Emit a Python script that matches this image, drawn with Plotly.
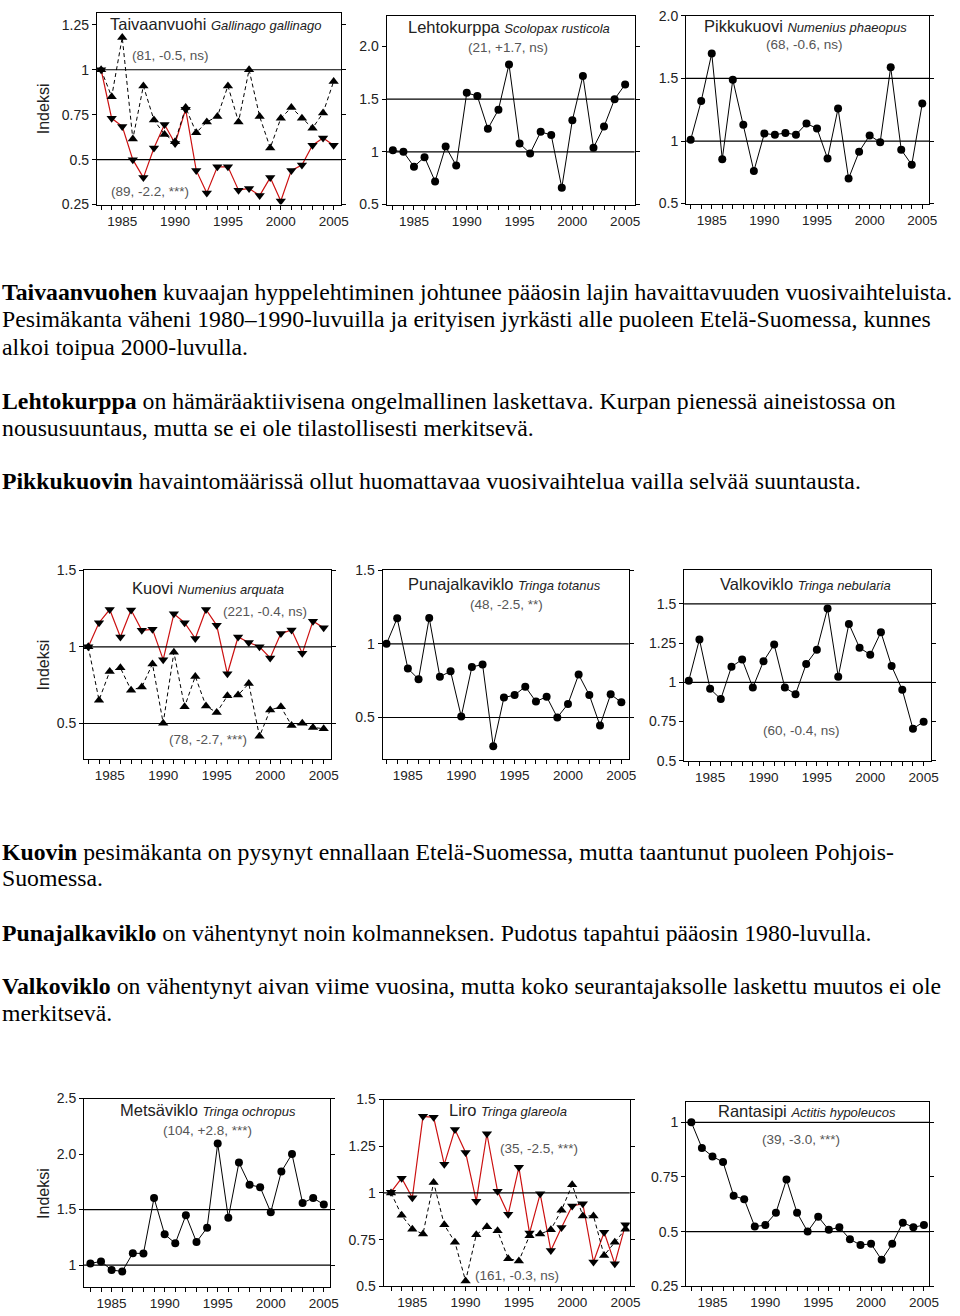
import plotly.graph_objects as go

# ---------------- data ----------------
years = list(range(1983, 2006))

taivaanvuohi_red = [1.0, 0.73, 0.685, 0.50, 0.40, 0.565, 0.695, 0.59, 0.78, 0.44, 0.315, 0.46,
                    0.46, 0.33, 0.34, 0.30, 0.40, 0.27, 0.44, 0.47, 0.58, 0.62, 0.58]
taivaanvuohi_black = [1.0, 0.85, 1.18, 0.615, 0.91, 0.72, 0.64, 0.60, 0.79, 0.65, 0.71, 0.74,
                      0.91, 0.71, 1.0, 0.74, 0.565, 0.73, 0.79, 0.73, 0.675, 0.76, 0.935]
lehtokurppa = [1.015, 1.0, 0.86, 0.95, 0.72, 1.05, 0.87, 1.56, 1.53, 1.22, 1.40, 1.83,
               1.08, 0.985, 1.19, 1.16, 0.66, 1.30, 1.72, 1.04, 1.24, 1.50, 1.64]
pikkukuovi = [1.01, 1.32, 1.70, 0.855, 1.49, 1.13, 0.76, 1.06, 1.05, 1.065, 1.05, 1.14,
              1.10, 0.86, 1.26, 0.70, 0.915, 1.045, 0.99, 1.59, 0.93, 0.81, 1.30]
kuovi_red = [1.0, 1.157, 1.243, 1.064, 1.24, 1.107, 1.114, 0.916, 1.215, 1.157, 1.054, 1.243,
             1.14, 0.824, 1.064, 1.028, 1.0, 0.927, 1.086, 1.11, 0.957, 1.167, 1.124]
kuovi_black = [1.0, 0.652, 0.839, 0.863, 0.717, 0.738, 0.888, 0.502, 0.964, 0.609, 0.807, 0.614,
               0.571, 0.68, 0.685, 0.76, 0.416, 0.588, 0.609, 0.487, 0.502, 0.474, 0.466]
punajalkaviklo = [1.0, 1.173, 0.832, 0.76, 1.175, 0.776, 0.814, 0.507, 0.843, 0.859, 0.305, 0.635,
                  0.652, 0.709, 0.608, 0.641, 0.50, 0.592, 0.791, 0.652, 0.446, 0.657, 0.603]
valkoviklo = [1.01, 1.273, 0.958, 0.893, 1.099, 1.145, 0.966, 1.134, 1.24, 0.966, 0.924, 1.116,
              1.208, 1.47, 1.036, 1.372, 1.22, 1.176, 1.319, 1.103, 0.952, 0.704, 0.748]
metsaviklo = [1.015, 1.033, 0.955, 0.943, 1.107, 1.104, 1.604, 1.277, 1.196, 1.449, 1.208, 1.336,
              2.095, 1.426, 1.923, 1.723, 1.702, 1.476, 1.842, 2.0, 1.56, 1.604, 1.545]
liro_red = [1.004, 1.079, 0.974, 1.41, 1.405, 1.153, 1.34, 1.217, 0.956, 1.317, 1.009, 0.886,
            1.137, 0.785, 0.995, 0.692, 0.815, 0.93, 0.942, 0.63, 0.789, 0.621, 0.829]
liro_black = [1.0, 0.88, 0.806, 0.78, 1.056, 0.829, 0.736, 0.528, 0.776, 0.819, 0.797, 0.648,
              0.636, 0.771, 0.78, 0.803, 0.907, 1.044, 0.877, 0.877, 0.665, 0.736, 0.806]
rantasipi = [1.0, 0.883, 0.844, 0.818, 0.664, 0.648, 0.523, 0.53, 0.586, 0.738, 0.586, 0.50,
             0.568, 0.508, 0.52, 0.465, 0.439, 0.444, 0.371, 0.444, 0.541, 0.52, 0.53]

x_tick_labels = ["1985", "1990", "1995", "2000", "2005"]

titles = ["Taivaanvuohi", "Lehtokurppa", "Pikkukuovi", "Kuovi", "Punajalkaviklo",
          "Valkoviklo", "Metsäviklo", "Liro", "Rantasipi"]
latin = ["Gallinago gallinago", "Scolopax rusticola", "Numenius phaeopus", "Numenius arquata",
         "Tringa totanus", "Tringa nebularia", "Tringa ochropus", "Tringa glareola",
         "Actitis hypoleucos"]

ytick_values = [
    [0.25, 0.5, 0.75, 1, 1.25],
    [0.5, 1, 1.5, 2.0],
    [0.5, 1, 1.5, 2.0],
    [0.5, 1, 1.5],
    [0.5, 1, 1.5],
    [0.5, 0.75, 1, 1.25, 1.5],
    [1, 1.5, 2.0, 2.5],
    [0.5, 0.75, 1, 1.25, 1.5],
    [0.25, 0.5, 0.75, 1],
]
ytick_labels = [
    ["0.25", "0.5", "0.75", "1", "1.25"],
    ["0.5", "1", "1.5", "2.0"],
    ["0.5", "1", "1.5", "2.0"],
    ["0.5", "1", "1.5"],
    ["0.5", "1", "1.5"],
    ["0.5", "0.75", "1", "1.25", "1.5"],
    ["1", "1.5", "2.0", "2.5"],
    ["0.5", "0.75", "1", "1.25", "1.5"],
    ["0.25", "0.5", "0.75", "1"],
]
ref_lines = [[0.5, 1], [1, 1.5], [1, 1.5], [0.5, 1], [0.5, 1], [1, 1.5], [1, 1.5], [1], [0.5, 1]]

stats_text = [
    ["(81, -0.5, ns)", "(89, -2.2, ***)"],
    ["(21, +1.7, ns)"],
    ["(68, -0.6, ns)"],
    ["(221, -0.4, ns)", "(78, -2.7, ***)"],
    ["(48, -2.5, **)"],
    ["(60, -0.4, ns)"],
    ["(104, +2.8, ***)"],
    ["(35, -2.5, ***)", "(161, -0.3, ns)"],
    ["(39, -3.0, ***)"],
]

body_lines = [
    "<b>Taivaanvuohen</b> kuvaajan hyppelehtiminen johtunee pääosin lajin havaittavuuden vuosivaihteluista.",
    "Pesimäkanta väheni 1980–1990-luvuilla ja erityisen jyrkästi alle puoleen Etelä-Suomessa, kunnes",
    "alkoi toipua 2000-luvulla.",
    "<b>Lehtokurppa</b> on hämäräaktiivisena ongelmallinen laskettava. Kurpan pienessä aineistossa on",
    "noususuuntaus, mutta se ei ole tilastollisesti merkitsevä.",
    "<b>Pikkukuovin</b> havaintomäärissä ollut huomattavaa vuosivaihtelua vailla selvää suuntausta.",
    "<b>Kuovin</b> pesimäkanta on pysynyt ennallaan Etelä-Suomessa, mutta taantunut puoleen Pohjois-",
    "Suomessa.",
    "<b>Punajalkaviklo</b> on vähentynyt noin kolmanneksen. Pudotus tapahtui pääosin 1980-luvulla.",
    "<b>Valkoviklo</b> on vähentynyt aivan viime vuosina, mutta koko seurantajaksolle laskettu muutos ei ole",
    "merkitsevä.",
]
y_title = "Indeksi"

# ---------------- layout config (page pixels) ----------------
W, H = 960, 1316

boxes = [
    (98, 5, 345, 199), (391, 8, 642, 199), (694, 8, 940, 198),
    (85, 569, 335, 760), (387, 569, 636, 760), (692, 569, 942, 762),
    (85, 1104, 334, 1295), (388, 1105, 637, 1294), (694, 1107, 940, 1294),
]
xranges = [
    [1982.6, 2005.7], [1982.4, 2005.9], [1982.56, 2005.66],
    [1982.6, 2005.7], [1982.63, 2005.69], [1982.56, 2005.71],
    [1982.4, 2005.6], [1982.3, 2005.4], [1982.5, 2005.5],
]
yranges = [
    [0.25, 1.316], [0.5, 2.29], [0.5, 2.0],
    [0.27, 1.5], [0.22, 1.5], [0.5, 1.715],
    [0.8, 2.5], [0.5, 1.5], [0.25, 1.095],
]
title_pos = [(218, 16), (515, 19), (815, 18), (210, 587), (510, 583), (815, 583),
             (210, 1116), (514, 1116), (816, 1117)]
stats_pos = [[(172, 48), (152, 186)], [(514, 40)], [(814, 37)], [(268, 611), (210, 740)],
             [(512, 604)], [(811, 731)], [(210, 1136)], [(545, 1155), (523, 1283)], [(810, 1145)]]
ytitle_pos = [(44, 102), (44, 665), (44, 1200)]
body_y = [288, 315, 343, 397.5, 425, 479, 854, 881, 936, 990.5, 1017.5]

RED = "#cc1111"
TXT = "#222222"
GREY = "#555555"
SANS = "Liberation Sans, Arial, sans-serif"
SERIF = "Liberation Serif, Times New Roman, serif"


def px(x):
    return x / W


def py(y):
    return 1 - y / H


series = [
    [("red", taivaanvuohi_red), ("black", taivaanvuohi_black)],
    [("dot", lehtokurppa)],
    [("dot", pikkukuovi)],
    [("red", kuovi_red), ("black", kuovi_black)],
    [("dot", punajalkaviklo)],
    [("dot", valkoviklo)],
    [("dot", metsaviklo)],
    [("red", liro_red), ("black", liro_black)],
    [("dot", rantasipi)],
]

fig = go.Figure()
shapes = []
annotations = []
xticktext = [str(y) if str(y) in x_tick_labels else "" for y in years]

for i in range(9):
    n = "" if i == 0 else str(i + 1)
    l, t, r, b = boxes[i]
    fig.update_layout(**{
        f"xaxis{n}": dict(
            domain=[px(l), px(r)], range=xranges[i], anchor=f"y{n}",
            showline=True, linecolor="black", linewidth=1, mirror=True,
            ticks="outside", ticklen=4, tickcolor="black",
            tickmode="array", tickvals=years, ticktext=xticktext,
            showgrid=False, zeroline=False,
            tickfont=dict(family=SANS, size=13.5, color=TXT),
        ),
        f"yaxis{n}": dict(
            domain=[py(b), py(t)], range=yranges[i], anchor=f"x{n}",
            showline=True, linecolor="black", linewidth=1, mirror="ticks",
            ticks="outside", ticklen=4, tickcolor="black",
            tickmode="array", tickvals=ytick_values[i], ticktext=ytick_labels[i],
            showgrid=False, zeroline=False,
            tickfont=dict(family=SANS, size=14, color=TXT),
        ),
    })
    for v in ref_lines[i]:
        shapes.append(dict(type="line", xref=f"x{n} domain", yref=f"y{n}",
                           x0=0, x1=1, y0=v, y1=v, line=dict(color="black", width=1.2)))
    for kind, vals in series[i]:
        if kind == "red":
            line = dict(color=RED, width=1.2)
            marker = dict(symbol="triangle-down", size=9, color="black")
        elif kind == "black":
            line = dict(color="black", width=1, dash="4px,3px")
            marker = dict(symbol="triangle-up", size=9, color="black")
        else:
            line = dict(color="black", width=1)
            marker = dict(symbol="circle", size=8, color="black")
        fig.add_trace(go.Scatter(x=years, y=vals, mode="lines+markers", line=line,
                                 marker=marker, xaxis=f"x{n}", yaxis=f"y{n}",
                                 showlegend=False, hoverinfo="skip"))
    tx, ty = title_pos[i]
    annotations.append(dict(
        x=px(tx), y=py(ty), xref="paper", yref="paper", showarrow=False,
        xanchor="center", yanchor="middle",
        text=f"{titles[i]} <i><span style='font-size:13px'>{latin[i]}</span></i>",
        font=dict(family=SANS, size=16.5, color=TXT)))
    for s, (sx, sy) in zip(stats_text[i], stats_pos[i]):
        annotations.append(dict(
            x=px(sx), y=py(sy), xref="paper", yref="paper", showarrow=False,
            xanchor="center", yanchor="middle", text=s,
            font=dict(family=SANS, size=13.5, color=GREY)))

for (yx, yy) in ytitle_pos:
    annotations.append(dict(x=px(yx), y=py(yy), xref="paper", yref="paper", showarrow=False,
                            xanchor="center", yanchor="middle", textangle=-90, text=y_title,
                            font=dict(family=SANS, size=16, color=TXT)))

for txt, yy in zip(body_lines, body_y):
    annotations.append(dict(x=px(0), y=py(yy), xref="paper", yref="paper", showarrow=False,
                            xanchor="left", yanchor="middle", text=txt,
                            font=dict(family=SERIF, size=23.75, color="black")))

fig.update_layout(width=W, height=H, margin=dict(l=0, r=0, t=0, b=0),
                  paper_bgcolor="white", plot_bgcolor="white",
                  shapes=shapes, annotations=annotations, showlegend=False)

fig.write_html("out.html", config={"displayModeBar": False},
               post_script="document.body.style.margin='0';document.documentElement.style.margin='0';")
